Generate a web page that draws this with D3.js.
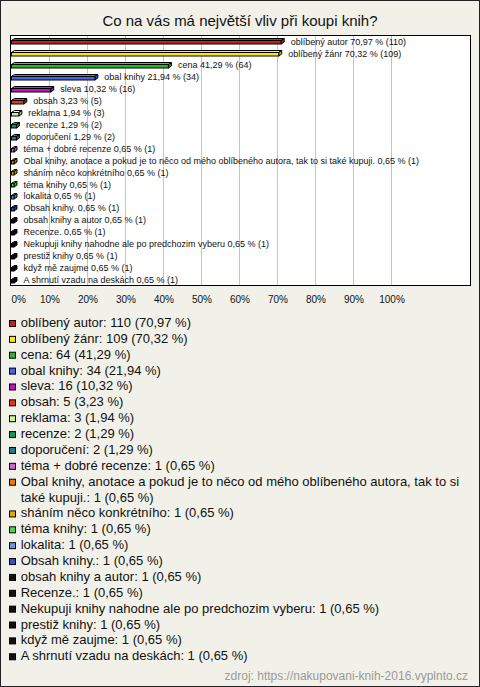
<!DOCTYPE html>
<html><head><meta charset="utf-8">
<script src="https://cdn.jsdelivr.net/npm/d3@7"></script>
<style>
html,body{margin:0;padding:0;background:#f2f1e9;}
svg{display:block;}
text{font-family:"Liberation Sans",Arial,sans-serif;}
</style></head>
<body>
<svg id="c" width="480" height="687"></svg>
<script>
const title = "Co na vás má největší vliv při koupi knih?";
const categories = [
  "oblíbený autor","oblíbený žánr","cena","obal knihy","sleva","obsah","reklama","recenze","doporučení",
  "téma + dobré recenze",
  "Obal knihy, anotace a pokud je to něco od mého oblíbeného autora, tak to si také kupuji.",
  "sháním něco konkrétního","téma knihy","lokalita","Obsah knihy.","obsah knihy a autor","Recenze.",
  "Nekupuji knihy nahodne ale po predchozim vyberu","prestiž knihy","když mě zaujme","A shrnutí vzadu na deskách"
];
const counts = [110,109,64,34,16,5,3,2,2,1,1,1,1,1,1,1,1,1,1,1,1];
const percents = [70.97,70.32,41.29,21.94,10.32,3.23,1.94,1.29,1.29,0.65,0.65,0.65,0.65,0.65,0.65,0.65,0.65,0.65,0.65,0.65,0.65];
const colors = ["#c8200e","#ffe800","#1ebe1e","#4466e6","#c010c8","#dd3c0c","#ccf58a","#12945a","#1f7a8c",
  "#cc66cc","#ee7711","#ddaa00","#44dd44","#6699dd","#3355bb","#111111","#111111","#111111","#111111","#111111","#111111"];
const tickValues = [0,10,20,30,40,50,60,70,80,90,100];
const source = "zdroj: https://nakupovani-knih-2016.vyplnto.cz";

const fmt = v => v.toFixed(2).replace(".", ",");
const svg = d3.select("#c");

svg.append("rect").attr("x",0.5).attr("y",0.5).attr("width",479).attr("height",686)
  .attr("fill","#f2f1e9").attr("stroke","#222");

svg.append("text").attr("x",240).attr("y",26).attr("text-anchor","middle")
  .attr("font-size",15).attr("fill","#111").text(title);

const box = {l:10.5, t:35.5, r:470.5, b:285.5};
const x = d3.scaleLinear().domain([0,100]).range([11.5,391.5]);
const y = d3.scaleBand().domain(categories).range([box.t, box.b]);

svg.append("rect").attr("x",box.l).attr("y",box.t).attr("width",box.r-box.l).attr("height",box.b-box.t)
  .attr("fill","#fff").attr("stroke","none");

svg.append("g").selectAll("line").data(tickValues.filter(t=>t>0)).join("line")
  .attr("x1",d=>x(d)).attr("x2",d=>x(d)).attr("y1",box.t).attr("y2",box.b)
  .attr("stroke","#c4c4c4").attr("stroke-width",1);

const dx = 3, dy = 2;
const rows = categories.map((c,i)=>({name:c,count:counts[i],pct:percents[i],color:colors[i]}));
const g = svg.append("g");
rows.forEach(d=>{
  const c = y(d.name) + y.bandwidth()/2;
  const x0 = x(0), x1 = x(d.pct);
  const fy0 = Math.round(c - 1) + 0.5, fy1 = fy0 + 3.5;
  const col = d3.color(d.color);
  g.append("path").attr("d",`M${x0},${fy0}L${x0+dx},${fy0-dy}L${x1+dx},${fy0-dy}L${x1},${fy0}Z`)
    .attr("fill",col.brighter(0.5)).attr("stroke","#000").attr("stroke-width",1).attr("stroke-linejoin","round");
  g.append("path").attr("d",`M${x1},${fy0}L${x1+dx},${fy0-dy}L${x1+dx},${fy1-dy}L${x1},${fy1}Z`)
    .attr("fill",col.darker(0.6)).attr("stroke","#000").attr("stroke-width",1).attr("stroke-linejoin","round");
  g.append("rect").attr("x",x0).attr("y",fy0).attr("width",Math.max(0,x1-x0)).attr("height",fy1-fy0)
    .attr("fill",d.color).attr("stroke","#000").attr("stroke-width",1);
  g.append("text").attr("x",x1+9.5).attr("y",c+3.2).attr("font-size",9).attr("fill","#111")
    .text(`${d.name} ${fmt(d.pct)} % (${d.count})`);
});

svg.append("rect").attr("x",box.l).attr("y",box.t).attr("width",box.r-box.l).attr("height",box.b-box.t)
  .attr("fill","none").attr("stroke","#000");

const ax = svg.append("g").attr("transform",`translate(0,303)`)
  .call(d3.axisBottom(x).tickValues(tickValues).tickFormat(d=>d+"%").tickSize(0).tickPadding(0));
ax.select(".domain").remove();
ax.selectAll("text").attr("font-size",10).attr("fill","#111").attr("font-family","Liberation Sans, Arial, sans-serif")
  .attr("dy",0).attr("y",0)
  .attr("text-anchor",d=>d===0?"start":"middle")
  .attr("dx",d=>d===0?-0.5:0);

const lg = svg.append("g");
const step = 15.87, base0 = 327, textX = 20.7, maxW = 456;
let line = 0;
rows.forEach(d=>{
  const bl = base0 + line*step;
  lg.append("rect").attr("x",9.5).attr("y",bl-6.5).attr("width",6).attr("height",6)
    .attr("fill",d.color).attr("stroke","#000");
  const full = `${d.name}: ${d.count} (${fmt(d.pct)} %)`;
  const words = full.split(" ");
  let t = lg.append("text").attr("x",textX).attr("y",bl).attr("font-size",13).attr("fill","#111");
  let cur = [];
  words.forEach(w=>{
    cur.push(w);
    t.text(cur.join(" "));
    if (t.node().getComputedTextLength() > maxW && cur.length>1){
      cur.pop(); t.text(cur.join(" "));
      line++;
      t = lg.append("text").attr("x",textX).attr("y",base0+line*step).attr("font-size",13).attr("fill","#111");
      cur=[w]; t.text(w);
    }
  });
  line++;
});

svg.append("text").attr("x",468).attr("y",680).attr("text-anchor","end")
  .attr("font-size",12).attr("fill","#999").text(source);
</script>
</body></html>
